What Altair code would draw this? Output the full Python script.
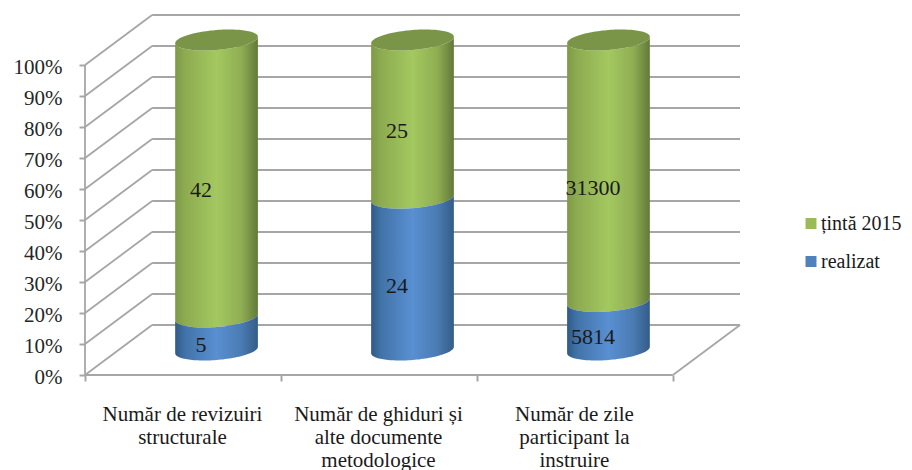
import altair as alt
import pandas as pd
import numpy as np

categories = ["Număr de revizuiri structurale", "Număr de ghiduri și alte documente metodologice", "Număr de zile participant la instruire"]
realizat = [5, 24, 5814]
tinta = [42, 25, 31300]
label_nudge_realizat = [0, 0, 0]
label_nudge_tinta = [0, 0, -2]
percent_ticks = list(range(0, 101, 10))
series = ["țintă 2015", "realizat"]
colors = ["#9BBB59", "#4F81BD"]
label_lines = [["Număr de revizuiri", "structurale"],
               ["Număr de ghiduri și", "alte documente", "metodologice"],
               ["Număr de zile", "participant la", "instruire"]]

PXU = 195.7          # px per category unit
PXP = 3.1            # px per percent
DX = 67 / PXU        # depth offset in category units
DY = 50 / PXP        # depth offset in percent units
RX = 41.3 / PXU
RY = 10 / PXP
SH = 3.2 / PXP
GRID = "#a6a6a6"
FONT = "Liberation Serif"

xs = alt.Scale(domain=[0, 3 + DX], nice=False, zero=False)
ys = alt.Scale(domain=[0, 100 + DY], nice=False, zero=False)

lab_expr = "[" + ",".join("[" + ",".join("'" + s + "'" for s in l) + "]" for l in label_lines) + ",''][datum.value]"

x_axis = alt.Axis(values=[0, 1, 2, 3], title=None, grid=False, domain=False,
                  tickSize=6, tickColor=GRID, tickWidth=2,
                  labelExpr=lab_expr, labelOffset=97, labelPadding=22,
                  labelFont=FONT, labelFontSize=21, labelColor="#1a1a1a",
                  labelLineHeight=23, labelOverlap=False, labelFlush=False,
                  labelBound=False)
y_axis = alt.Axis(values=percent_ticks, title=None, grid=False, domain=False,
                  tickSize=6, tickColor=GRID, tickWidth=2, labelOverlap=False,
                  labelSeparation=0, labelBound=False, labelFlush=False,
                  labelExpr="datum.value + '%'", labelPadding=17, labelOffset=2,
                  labelFont=FONT, labelFontSize=21, labelColor="#262626")
X = alt.X("x:Q", scale=xs, axis=x_axis)
Y = alt.Y("y:Q", scale=ys, axis=y_axis)

# walls and floor
grid = pd.DataFrame([{"x": DX, "x2": 3 + DX, "y": p + DY, "y2": p + DY} for p in percent_ticks] +
                    [{"x": 0, "x2": DX, "y": p, "y2": p + DY} for p in percent_ticks] +
                    [{"x": 3, "x2": 3 + DX, "y": 0, "y2": DY},
                     {"x": 0, "x2": 3, "y": 0, "y2": 0},
                     {"x": 0, "x2": 0, "y": 0, "y2": 100}])
grid_layer = alt.Chart(grid).mark_rule(color=GRID, strokeWidth=1.8).encode(
    x=X, x2="x2:Q", y=Y, y2="y2:Q",
)

# cylinders
t = np.cos(np.linspace(np.pi, 0, 61))
arc = np.sqrt(np.clip(1 - t ** 2, 0, 1))


def body(i, a, b):
    cx = i + 0.5 + DX / 2
    cy = DY / 2
    return pd.DataFrame({"x": cx + RX * t,
                         "y": cy + b + SH * t - RY * arc,
                         "y2": cy + a + SH * t - RY * arc,
                         "cyl": f"c{i}"})


blue_rows, green_rows, cap_rows, label_rows = [], [], [], []
for i, (r, g) in enumerate(zip(realizat, tinta)):
    share = 100 * r / (r + g)
    blue_rows.append(body(i, 0, share))
    green_rows.append(body(i, share, 100))
    cx = i + 0.5 + DX / 2
    cap_rows.append(pd.DataFrame({"x": cx + RX * t,
                                  "y": DY / 2 + 100 + SH * t + RY * arc,
                                  "y2": DY / 2 + 100 + SH * t - RY * arc,
                                  "cyl": f"c{i}"}))
    label_rows.append({"x": i + 0.5 + 0.27 * DX, "y": share / 2 + 0.27 * DY + label_nudge_realizat[i], "t": str(r)})
    label_rows.append({"x": i + 0.5 + 0.27 * DX, "y": (share + 100) / 2 + 0.27 * DY + label_nudge_tinta[i], "t": str(g)})


def grad(stops):
    return alt.LinearGradient(gradient="linear", x1=0, x2=1, y1=0, y2=0,
                              stops=[alt.GradientStop(offset=o, color=c) for o, c in stops])


green_grad = grad([(0, "#7d9a46"), (0.12, "#8dab50"), (0.5, "#a4c860"), (0.8, "#8fae52"), (1, "#62793a")])
blue_grad = grad([(0, "#2f5a88"), (0.12, "#4273a8"), (0.5, "#5990d2"), (0.8, "#4a7bb3"), (1, "#345c88")])


def area(frames, fill):
    return alt.Chart(pd.concat(frames)).mark_area(fill=fill, interpolate="linear").encode(
        x=X, y=Y, y2="y2:Q", detail="cyl:N")


legend_layer = alt.Chart(pd.DataFrame({"x": [0.5, 0.5], "y": [50, 50], "s": series})).mark_square(size=4).encode(
    x=X, y=Y,
    color=alt.Color("s:N", scale=alt.Scale(domain=series, range=colors), sort=series,
                    legend=alt.Legend(title=None, orient="none", legendX=716, legendY=198.5,
                                      symbolType="square", symbolSize=120, symbolOpacity=1,
                                      labelFont=FONT, labelFontSize=20, labelColor="#1a1a1a",
                                      rowPadding=18, labelOffset=0)),
)

text_layer = alt.Chart(pd.DataFrame(label_rows)).mark_text(font=FONT, fontSize=22, color="#1a1a1a").encode(
    x=X, y=Y, text="t:N")

chart = alt.layer(
    grid_layer, legend_layer, area(green_rows, green_grad), area(blue_rows, blue_grad),
    area(cap_rows, "#7b9548"), text_layer).properties(
    width=655, height=360,
    autosize=alt.AutoSizeParams(type="none"),
    padding={"left": 77, "top": 7, "right": 164, "bottom": 95},
).configure_view(stroke=None).configure_axis(labelOverlap=False)

chart.save("out.html", embed_options={"renderer": "svg", "actions": False})
